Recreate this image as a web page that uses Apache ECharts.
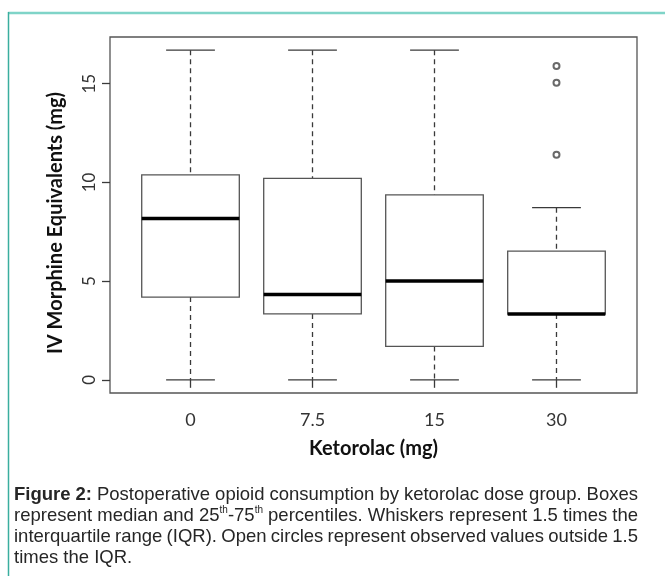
<!DOCTYPE html>
<html><head><meta charset="utf-8">
<script src="https://cdn.jsdelivr.net/npm/echarts@6/dist/echarts.min.js"></script>
<style>html,body{margin:0;padding:0;background:#fff}#c{width:665px;height:576px}</style>
</head><body><div id="c"></div>
<script>
// ---- data ----
const groups = ['0', '7.5', '15', '30'];
const whiskerLow = [0, 0, 0, 0];
const q1 = [4.19, 3.34, 1.69, 3.33];
const median = [8.17, 4.32, 5.01, 3.33];
const q3 = [10.38, 10.21, 9.37, 6.52];
const whiskerHigh = [16.7, 16.7, 16.7, 8.72];
const outlierGroup = [4, 4, 4];
const outlierValues = [15.9, 15.05, 11.4];
const yTicks = [0, 5, 10, 15];
const xTitle = 'Ketorolac (mg)';
const yTitle = 'IV Morphine Equivalents (mg)';
const captionLines = [
  '**Figure** **2:** Postoperative opioid consumption by ketorolac dose group. Boxes',
  'represent median and 25^th^-75^th^ percentiles. Whiskers represent 1.5 times the',
  'interquartile range (IQR). Open circles represent observed values outside 1.5',
  'times the IQR.'
];

// ---- axis ranges (R style 4% extension) ----
const yMinData = Math.min(...whiskerLow), yMaxData = Math.max(...whiskerHigh, ...outlierValues);
const yr = yMaxData - yMinData;
const yMin = yMinData - 0.04 * yr, yMax = yMaxData + 0.04 * yr;
const xMin = 0.5 - 0.04 * groups.length, xMax = groups.length + 0.5 + 0.04 * groups.length;

const boxData = groups.map((g, i) => [i + 1, whiskerLow[i], q1[i], median[i], q3[i], whiskerHigh[i]]);
const outlierData = outlierValues.map((v, i) => [outlierGroup[i], v]);

const LINE = '#3a3a3a', BOXC = '#555';
function renderItem(params, api) {
  const x = api.value(0);
  const lo = api.value(1), a = api.value(2), m = api.value(3), b = api.value(4), hi = api.value(5);
  const tl = api.coord([x - 0.4, b]), br = api.coord([x + 0.4, a]);
  const c = api.coord([x, m]);
  const pLo = api.coord([x, lo]), pHi = api.coord([x, hi]);
  const capL = api.coord([x - 0.2, lo])[0], capR = api.coord([x + 0.2, lo])[0];
  const dash = { stroke: LINE, lineWidth: 1.3, lineDash: [5, 4] };
  const solid = { stroke: LINE, lineWidth: 1.3 };
  return { type: 'group', children: [
    { type: 'line', shape: { x1: c[0], y1: pHi[1], x2: c[0], y2: tl[1] }, style: dash },
    { type: 'line', shape: { x1: c[0], y1: br[1], x2: c[0], y2: pLo[1] }, style: dash },
    { type: 'line', shape: { x1: capL, y1: pHi[1], x2: capR, y2: pHi[1] }, style: solid },
    { type: 'line', shape: { x1: capL, y1: pLo[1], x2: capR, y2: pLo[1] }, style: solid },
    { type: 'rect', shape: { x: tl[0], y: tl[1], width: br[0] - tl[0], height: br[1] - tl[1] }, style: { fill: '#fff', stroke: BOXC, lineWidth: 1.3 } },
    { type: 'line', shape: { x1: tl[0], y1: c[1], x2: br[0], y2: c[1] }, style: { stroke: '#000', lineWidth: 3.5 } }
  ]};
}

// ---- caption justification ----
const CAP = 18.5, SUP = 10, SX = 1, CAPX0 = 14, CAPX1 = 638, CAPFAM = '"Liberation Sans", Arial, sans-serif';
const capMid = [495, 516, 537, 558];
const mctx = document.createElement('canvas').getContext('2d');
function fstr(k) { return (k === 'b' ? 'bold ' : '') + (k === 's' ? SUP : CAP) + 'px ' + CAPFAM; }
function parseWord(w) {
  const segs = []; const re = /\*\*(.+?)\*\*|\^(.+?)\^|([^*^]+)/g; let mm;
  while ((mm = re.exec(w))) {
    if (mm[1]) segs.push({ k: 'b', t: mm[1] });
    else if (mm[2]) segs.push({ k: 's', t: mm[2] });
    else segs.push({ k: 'n', t: mm[3] });
  }
  segs.forEach(s => { mctx.font = fstr(s.k); s.w = mctx.measureText(s.t).width * SX; });
  return segs;
}
const capGraphics = [];
captionLines.forEach((line, li) => {
  const words = line.split(' ').map(parseWord);
  const ww = words.map(ws => ws.reduce((s, q) => s + q.w, 0));
  const total = ww.reduce((s, v) => s + v, 0);
  mctx.font = fstr('n');
  const sp = mctx.measureText(' ').width * SX;
  const justify = li < captionLines.length - 1;
  const gap = justify ? Math.max(sp * 0.8, (CAPX1 - CAPX0 - total) / (words.length - 1)) : sp;
  let x = CAPX0;
  words.forEach((ws) => {
    ws.forEach(s => {
      capGraphics.push({ type: 'text', x: x, y: capMid[li] + (s.k === 's' ? -6 : 0), scaleX: SX, silent: true,
        style: { text: s.t, font: fstr(s.k), fill: '#262626', align: 'left', verticalAlign: 'middle' } });
      x += s.w;
    });
    x += gap;
  });
});

const chart = echarts.init(document.getElementById('c'), null, { renderer: 'canvas' });
chart.setOption({
  animation: false,
  backgroundColor: '#fff',
  grid: { left: 110, top: 37, width: 527, height: 356, show: true, borderColor: '#555', borderWidth: 1.3, backgroundColor: 'transparent' },
  xAxis: {
    type: 'value', min: xMin, max: xMax,
    axisLine: { show: false }, splitLine: { show: false },
    axisTick: { show: true, customValues: [1, 2, 3, 4], length: 8, lineStyle: { color: LINE, width: 1.3 } },
    axisLabel: { customValues: [1, 2, 3, 4], formatter: v => groups[Math.round(v) - 1], margin: 18, fontSize: 18, fontFamily: 'Lato', color: '#333' }
  },
  yAxis: {
    type: 'value', min: yMin, max: yMax,
    axisLine: { show: false }, splitLine: { show: false },
    axisTick: { show: true, customValues: yTicks, length: 8, lineStyle: { color: LINE, width: 1.3 } },
    axisLabel: { customValues: yTicks, rotate: 90, margin: 12, fontSize: 17, fontFamily: 'Lato', color: '#333' }
  },
  series: [
    { type: 'custom', renderItem: renderItem, data: boxData, encode: { x: 0, y: [1, 2, 3, 4, 5] }, clip: false, silent: true },
    { type: 'scatter', data: outlierData, symbol: 'emptyCircle', symbolSize: 6, itemStyle: { color: '#444', borderWidth: 1.2 }, silent: true }
  ],
  graphic: [
    { type: 'line', shape: { x1: 8, y1: 13, x2: 665, y2: 13 }, style: { stroke: '#7fd4c8', lineWidth: 2.5 }, silent: true },
    { type: 'line', shape: { x1: 8.5, y1: 12, x2: 8.5, y2: 576 }, style: { stroke: '#3aae9f', lineWidth: 1.5 }, silent: true },
    { type: 'text', x: 56, y: 223, rotation: Math.PI / 2, silent: true,
      style: { text: yTitle, fontSize: 20, fontWeight: 'bold', fontFamily: 'Lato', fill: '#111', align: 'center', verticalAlign: 'middle' } },
    { type: 'text', x: 373.5, y: 449, silent: true,
      style: { text: xTitle, fontSize: 20, fontWeight: 'bold', fontFamily: 'Lato', fill: '#111', align: 'center', verticalAlign: 'middle' } },
    ...capGraphics
  ]
});
</script></body></html>
